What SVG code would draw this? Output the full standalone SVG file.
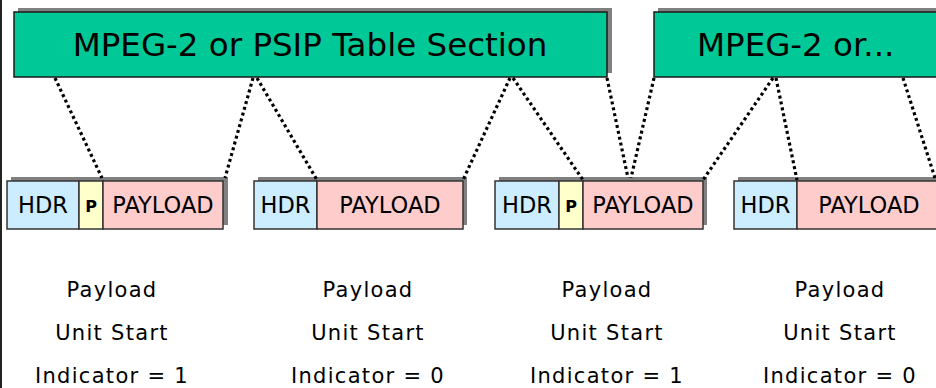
<svg xmlns="http://www.w3.org/2000/svg" width="936" height="388" viewBox="0 0 936 388">
  <style>
    .shadow { fill: #808080; }
    .section { fill: #00C896; stroke: #1a1a1a; stroke-width: 1.5; }
    .hdr { fill: #CCECFF; stroke: #333; stroke-width: 1.5; }
    .ptr { fill: #FFFFCC; stroke: #333; stroke-width: 1.5; }
    .payload { fill: #FFCCCC; stroke: #333; stroke-width: 1.5; }
    .big { font-family: "DejaVu Sans", Verdana, sans-serif; font-size: 32.5px; fill: #000; }
    .cell { font-family: "DejaVu Sans", Verdana, sans-serif; font-size: 22.5px; fill: #000; text-anchor: middle; }
    .p { font-family: "DejaVu Sans", Verdana, sans-serif; font-size: 16px; font-weight: bold; fill: #000; text-anchor: middle; }
    .label { font-family: "DejaVu Sans", Verdana, sans-serif; font-size: 21px; letter-spacing: 1.3px; fill: #000; text-anchor: middle; }
    .dots { fill: none; stroke: #000; stroke-width: 3.2; stroke-dasharray: 3 3; }
  </style>

  <rect x="0" y="0" width="936" height="388" fill="#fff"/>
  <line x1="1" y1="0" x2="1" y2="388" stroke="#222" stroke-width="2"/>

  <!-- table sections -->
  <g id="section1">
    <rect class="shadow" x="18" y="8" width="594" height="65"/>
    <rect class="section" x="14" y="12" width="593" height="65"/>
    <text class="big" x="310" y="56" text-anchor="middle">MPEG-2 or PSIP Table Section</text>
  </g>
  <g id="section2">
    <rect class="shadow" x="658" y="8" width="290" height="65"/>
    <rect class="section" x="654" y="12" width="290" height="65"/>
    <text class="big" x="697" y="56">MPEG-2 or...</text>
  </g>

  <!-- transport packets -->
  <g id="packet1">
    <rect class="shadow" x="11" y="177" width="217" height="48"/>
    <rect class="hdr" x="7" y="181" width="72" height="48"/>
    <rect class="ptr" x="79" y="181" width="24" height="48"/>
    <rect class="payload" x="103" y="181" width="120" height="48"/>
    <text class="cell" x="43" y="213">HDR</text>
    <text class="p" x="91" y="212">P</text>
    <text class="cell" x="163" y="213">PAYLOAD</text>
  </g>
  <g id="packet2">
    <rect class="shadow" x="258" y="177" width="209" height="48"/>
    <rect class="hdr" x="254" y="181" width="63" height="48"/>
    <rect class="payload" x="317" y="181" width="146" height="48"/>
    <text class="cell" x="285.5" y="213">HDR</text>
    <text class="cell" x="390" y="213">PAYLOAD</text>
  </g>
  <g id="packet3">
    <rect class="shadow" x="499" y="177" width="208" height="48"/>
    <rect class="hdr" x="495" y="181" width="64" height="48"/>
    <rect class="ptr" x="559" y="181" width="24" height="48"/>
    <rect class="payload" x="583" y="181" width="120" height="48"/>
    <text class="cell" x="527" y="213">HDR</text>
    <text class="p" x="571" y="212">P</text>
    <text class="cell" x="643" y="213">PAYLOAD</text>
  </g>
  <g id="packet4">
    <rect class="shadow" x="738" y="177" width="210" height="48"/>
    <rect class="hdr" x="734" y="181" width="63" height="48"/>
    <rect class="payload" x="797" y="181" width="146" height="48"/>
    <text class="cell" x="765.5" y="213">HDR</text>
    <text class="cell" x="869" y="213">PAYLOAD</text>
  </g>

  <!-- section-to-packet mapping -->
  <g id="connectors">
    <line class="dots" x1="55" y1="78" x2="102" y2="178"/>
    <line class="dots" x1="253" y1="78" x2="225" y2="178"/>
    <line class="dots" x1="257" y1="78" x2="317" y2="180"/>
    <line class="dots" x1="510" y1="78" x2="463" y2="180"/>
    <line class="dots" x1="513" y1="78" x2="583" y2="180"/>
    <line class="dots" x1="607" y1="78" x2="628" y2="178"/>
    <line class="dots" x1="654" y1="78" x2="631" y2="178"/>
    <line class="dots" x1="773" y1="78" x2="703" y2="180"/>
    <line class="dots" x1="776" y1="78" x2="797" y2="180"/>
    <line class="dots" x1="903" y1="78" x2="935" y2="178"/>
  </g>

  <!-- indicator captions -->
  <g id="caption1">
    <text class="label" x="112" y="297">Payload</text>
    <text class="label" x="112" y="340">Unit Start</text>
    <text class="label" x="112" y="383">Indicator = 1</text>
  </g>
  <g id="caption2">
    <text class="label" x="368" y="297">Payload</text>
    <text class="label" x="368" y="340">Unit Start</text>
    <text class="label" x="368" y="383">Indicator = 0</text>
  </g>
  <g id="caption3">
    <text class="label" x="607" y="297">Payload</text>
    <text class="label" x="607" y="340">Unit Start</text>
    <text class="label" x="607" y="383">Indicator = 1</text>
  </g>
  <g id="caption4">
    <text class="label" x="840" y="297">Payload</text>
    <text class="label" x="840" y="340">Unit Start</text>
    <text class="label" x="840" y="383">Indicator = 0</text>
  </g>
</svg>
